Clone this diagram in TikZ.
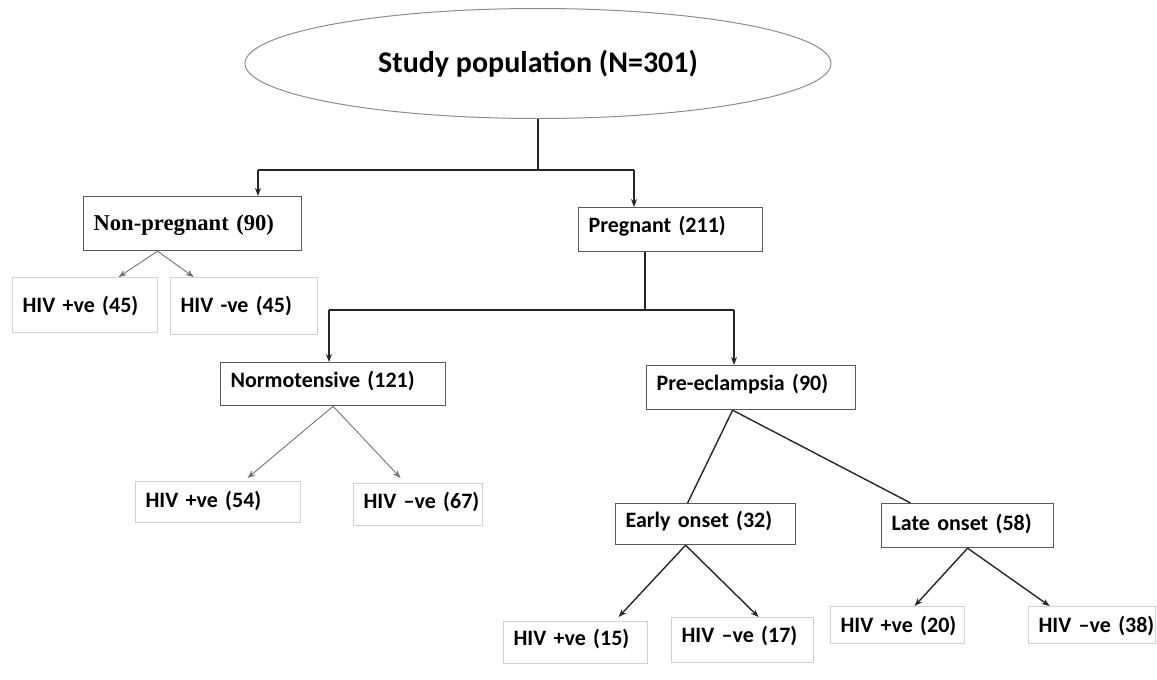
\documentclass[tikz,border=0pt]{standalone}
\usepackage{fontspec}
\setmainfont{Carlito}
\newfontfamily\serifbf{Liberation Serif}
\usepackage{tikz}
\usetikzlibrary{shapes, arrows.meta, positioning, calc}

\begin{document}
\begin{tikzpicture}[
      x=0.5pt, y=-0.5pt,
      every node/.style={font=\bfseries\fontsize{11}{13}\selectfont},
      box/.style={rectangle, draw=black!65, line width=0.6pt, anchor=north west, inner xsep=5pt, inner ysep=0pt, align=left},
      leaf/.style={box, draw=black!18},
      link/.style={draw=black!85, line width=0.7pt},
      arrow/.style={link, -{Stealth[length=4pt, width=3pt]}},
      thinarrow/.style={arrow, draw=black!55, line width=0.45pt}
    ]
    \useasboundingbox (0,0) rectangle (1157,680);
    % whole study
    \node[ellipse, draw=black!45, line width=0.5pt, minimum width=293pt, minimum height=55pt, inner sep=0pt, font=\bfseries\fontsize{15}{18}\selectfont] (pop) at (538,63.5) {Study population (N=301)};
    % second level
    \node[box, text width=99pt, text height=17pt, text depth=10pt, font=\serifbf\bfseries\fontsize{11.3}{13}\selectfont] (nonpreg) at (83,196) {Non-pregnant (90)};
    \node[box, text width=82pt, text height=12.5pt, text depth=9.5pt] (preg) at (578,207) {Pregnant (211)};
    % non-pregnant groups
    \node[leaf, text width=62.5pt, text height=17.5pt, text depth=10pt] (hivA) at (12,277) {\mbox{HIV +ve (45)}};
    \node[leaf, text width=63.5pt, text height=17.5pt, text depth=11pt] (hivB) at (170,277) {\mbox{HIV -ve (45)}};
    % pregnant groups
    \node[box, text width=102.5pt, text height=12.5pt, text depth=9pt] (normo) at (220,362) {Normotensive (121)};
    \node[box, text width=94.5pt, text height=12.5pt, text depth=9.5pt] (preec) at (646,365) {Pre-eclampsia (90)};
    \node[leaf, text width=72.5pt, text height=13pt, text depth=7.5pt] (hivC) at (135,481) {\mbox{HIV +ve (54)}};
    \node[leaf, text width=54.5pt, text height=12.5pt, text depth=8.5pt] (hivD) at (353,483) {\mbox{HIV –ve (67)}};
    % onset
    \node[box, text width=80pt, text height=12pt, text depth=8.5pt] (early) at (615,503) {Early onset (32)};
    \node[box, text width=76pt, text height=13.5pt, text depth=8.5pt] (late) at (881,503) {Late onset (58)};
    \node[leaf, text width=62pt, text height=12pt, text depth=9pt] (hivE) at (503,621) {\mbox{HIV +ve (15)}};
    \node[leaf, text width=61pt, text height=12.5pt, text depth=10pt] (hivF) at (671,617) {\mbox{HIV –ve (17)}};
    \node[leaf, text width=57pt, text height=13pt, text depth=5.5pt] (hivG) at (830,606) {\mbox{HIV +ve (20)}};
    \node[leaf, text width=53.5pt, text height=13pt, text depth=5.5pt] (hivH) at (1028,606) {\mbox{HIV –ve (38)}};

    % elbows
    \coordinate (split1) at (538,170);
    \coordinate (left1) at (258,170);
    \coordinate (right1) at (634,170);
    \coordinate (split2) at (645,310);
    \coordinate (left2) at (329,310);
    \coordinate (right2) at (734,310);

    \draw[link] (pop.south) -- (split1);
    \draw[link] (left1) -- (right1);
    \draw[arrow] (left1) -- (left1 |- nonpreg.north);
    \draw[arrow] (right1) -- (right1 |- preg.north);

    \draw[link] (split2 |- preg.south) -- (split2);
    \draw[link] (left2) -- (right2);
    \draw[arrow] (left2) -- (left2 |- normo.north);
    \draw[arrow] (right2) -- (right2 |- preec.north);

    \draw[thinarrow] ([xshift=-17.5pt]nonpreg.south) -- ([xshift=16.75pt]hivA.north);
    \draw[thinarrow] ([xshift=-17.5pt]nonpreg.south) -- ([xshift=-25.25pt]hivB.north);
    \draw[thinarrow] (normo.south) -- ([xshift=14.75pt, yshift=1.5pt]hivC.north);
    \draw[thinarrow] (normo.south) -- ([xshift=-8.75pt, yshift=2.5pt]hivD.north);

    \draw[link] ([xshift=-9.25pt]preec.south) -- ([xshift=-9pt]early.north);
    \draw[link] ([xshift=-9.25pt]preec.south) -- ([xshift=-28.5pt]late.north);

    \draw[arrow] ([xshift=-10pt]early.south) -- ([xshift=21.5pt, yshift=2pt]hivE.north);
    \draw[arrow] ([xshift=-10pt]early.south) -- ([xshift=8pt]hivF.north);
    \draw[arrow] (late.south) -- ([xshift=8.5pt]hivG.north);
    \draw[arrow] (late.south) -- ([xshift=-21.25pt]hivH.north);
\end{tikzpicture}
\end{document}
